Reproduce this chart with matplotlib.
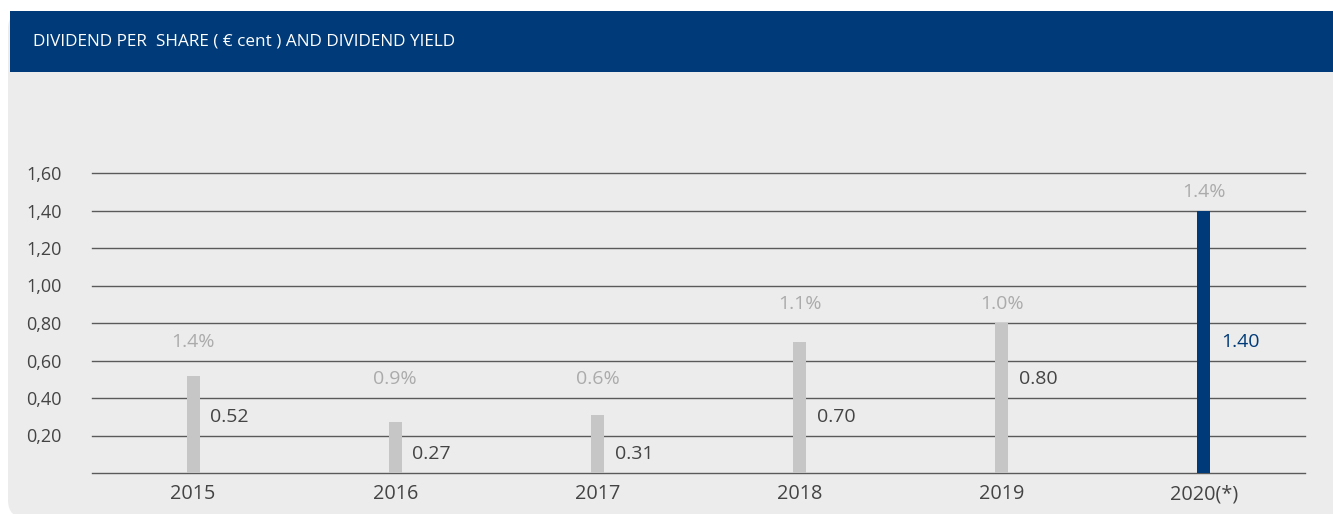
import math
import matplotlib.pyplot as plt
from matplotlib.patches import FancyBboxPatch, Rectangle

years = ["2015", "2016", "2017", "2018", "2019", "2020(*)"]
dividend = [0.52, 0.27, 0.31, 0.70, 0.80, 1.40]
dividend_labels = ["0.52", "0.27", "0.31", "0.70", "0.80", "1.40"]
yield_labels = ["1.4%", "0.9%", "0.6%", "1.1%", "1.0%", "1.4%"]
yticks = [0.20, 0.40, 0.60, 0.80, 1.00, 1.20, 1.40, 1.60]

navy = "#003a78"
bar_grey = "#c6c6c6"
panel_grey = "#ececec"
text_grey = "#444444"
light_text = "#ababab"
step = 0.2  # grid spacing

plt.rcParams["font.family"] = ["Open Sans", "DejaVu Sans"]

fig = plt.figure(figsize=(13.33, 5.14), dpi=100)
fig.patch.set_facecolor("white")

# grey card with rounded corners, header band on top
panel = FancyBboxPatch((8, -4), 1360, 507, boxstyle="round,pad=0,rounding_size=18",
                       transform=None, facecolor=panel_grey, edgecolor="none", zorder=0)
fig.patches.append(panel)
header = Rectangle((10, 442), 1330, 61, transform=None, facecolor=navy,
                   edgecolor="none", zorder=1)
fig.patches.append(header)
fig.text(33 / 1333, 472 / 514, "DIVIDEND PER  SHARE ( € cent ) AND DIVIDEND YIELD",
         color="white", fontsize=12.3, va="center", ha="left", zorder=2)

ax = fig.add_axes([92 / 1333, 41 / 514, (1305 - 92) / 1333, (473 - 173) / 514])
ax.set_facecolor("none")
ax.set_zorder(5)

x = list(range(len(years)))
colors = [bar_grey] * (len(years) - 1) + [navy]
ax.bar(x, dividend, width=0.065, color=colors, zorder=3)

for xi, v, lab, yl, c in zip(x, dividend, dividend_labels, yield_labels, colors):
    lab_color = navy if c == navy else text_grey
    # labels are centred inside grid bands: value near mid-bar, yield just above the top
    mid_band = math.floor(round(v / 2 / step, 6)) * step + step / 2
    top_band = math.ceil(round(v / step, 6)) * step + step / 2
    ax.text(xi + 0.085, mid_band, lab, color=lab_color, fontsize=14,
            va="center", ha="left", zorder=4)
    ax.text(xi, top_band, yl, color=light_text, fontsize=14,
            va="center", ha="center", clip_on=False, zorder=4)

ax.set_xlim(-0.5, 5.5)
ax.set_ylim(0, 1.6)
ax.set_yticks(yticks)
ax.set_yticklabels([f"{t:.2f}".replace(".", ",") for t in yticks])
ax.set_xticks(x)
ax.set_xticklabels(years)
ax.tick_params(axis="both", length=0, colors=text_grey)
ax.tick_params(axis="y", pad=22, labelsize=13)
ax.tick_params(axis="x", pad=8, labelsize=14.3)

for t in [0] + yticks:
    ax.axhline(t, color="#5a5a5a", linewidth=1.0, zorder=1, clip_on=False)

for s in ax.spines.values():
    s.set_visible(False)

fig.savefig("out.png", dpi=100, facecolor="white")
